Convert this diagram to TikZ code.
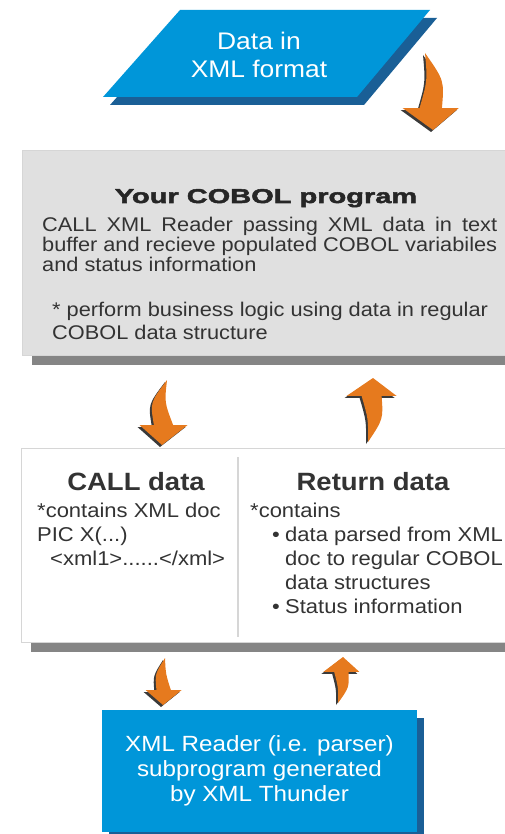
\documentclass[tikz,border=0pt]{standalone}
\usepackage{fontspec}
\setmainfont{Liberation Sans}[FakeStretch=1.1]
\newfontfamily\heavyfont{Liberation Sans}[FakeStretch=1.45,FakeBold=2.5]
\usetikzlibrary{shadows,calc}

\definecolor{xmlblue}{HTML}{0096D9}
\definecolor{xmlshade}{HTML}{1A5F96}
\definecolor{cobolgray}{HTML}{E0E0E0}
\definecolor{barshade}{HTML}{858585}
\definecolor{arroworange}{HTML}{E67A1E}
\definecolor{arrowdark}{HTML}{3A3A3A}
\definecolor{rulegray}{HTML}{D6D6D6}
\definecolor{textgray}{HTML}{333333}

\tikzset{
  blueshadow/.style={drop shadow={shadow xshift=7pt, shadow yshift=-8pt, fill=xmlshade, opacity=1}},
  bluebox/.style={fill=xmlblue, text=white, inner sep=0pt, blueshadow},
  panel/.style={rectangle, draw=rulegray, inner sep=0pt,
    drop shadow={shadow xshift=10pt, shadow yshift=-10pt, fill=barshade, opacity=1}},
  heading/.style={font=\fontsize{25}{28}\selectfont\bfseries, text=textgray, inner sep=0pt},
  bodytext/.style={font=\fontsize{20}{24}\selectfont, text=textgray, inner sep=0pt, align=left},
  blockarrow/.style={fill=arroworange,
    drop shadow={shadow xshift=-2pt, shadow yshift=-2pt, fill=arrowdark, opacity=1}}
}

% curved block arrow: tail, tip, head length, head half width, bulge
\newcommand{\fatarrow}[5]{%
  \coordinate (hb) at ($(#2)!#3!(#1)$);
  \coordinate (mid) at ($(#1)!0.5!(hb)$);
  \fill[blockarrow] (#1) .. controls ($(mid)+(#5+0.3*#4,0)$) .. ($(hb)+(0.4*#4,0)$)
    -- ($(hb)+(#4,0)$) -- (#2) -- ($(hb)+(-#4,0)$) -- ($(hb)+(-0.4*#4,0)$)
    .. controls ($(mid)+(#5-0.3*#4,0)$) .. (#1) -- cycle;
}

\begin{document}
\begin{tikzpicture}[x=1pt,y=-1pt]
\useasboundingbox (0,0) rectangle (504,834);

% input
\fill[xmlblue, blueshadow] (180,10) -- (430,10) -- (357,97) -- (103,97) -- cycle;
\node[text=white, inner sep=0pt, align=center, font=\fontsize{24}{28}\selectfont] (data) at (259,55)
  {Data in\\XML format};

% the COBOL program
\node[panel, fill=cobolgray, minimum width=494pt, minimum height=205pt] (cobol) at (269,252.5) {};
\node[font=\heavyfont\fontsize{20}{24}\selectfont\bfseries, text=black!85, inner sep=0pt, anchor=base] (title) at (266,203) {Your COBOL program};
\node[bodytext, font=\fontsize{19.8}{20}\selectfont, text width=455pt, align=justify, anchor=north west] (callxml) at (42,217)
  {CALL XML Reader passing XML data in text buffer and recieve populated COBOL variabiles and status information};
\node[bodytext, font=\fontsize{19.8}{23}\selectfont, anchor=north west] (logic) at (52,302)
  {* perform business logic using data in regular\\COBOL data structure};

% data passed to and from the reader
\node[panel, fill=white, minimum width=494pt, minimum height=194pt] (pass) at (268,545) {};
\draw[rulegray, line width=2pt] (238,457) -- (238,637);
\node[heading, anchor=base] (calldata) at (136,490) {CALL data};
\node[heading, anchor=base] (retdata) at (373,490) {Return data};
\node[bodytext, anchor=north west] (callinfo) at (37,503)
  {*contains XML doc\\PIC X(...)\\\hspace*{13pt}<xml1>......</xml>};
\node[bodytext, anchor=north west] (retinfo) at (250,503)
  {*contains\\
   \hspace*{22pt}\makebox[13pt][l]{\textbullet}data parsed from XML\\
   \hspace*{35pt}doc to regular COBOL\\
   \hspace*{35pt}data structures\\
   \hspace*{22pt}\makebox[13pt][l]{\textbullet}Status information};

% the reader
\node[bluebox, minimum width=315pt, minimum height=122pt, align=center,
  font=\fontsize{22}{25}\selectfont] (reader) at (259.5,771)
  {XML Reader (i.e. parser)\\subprogram generated\\by XML Thunder};

% arrows
\coordinate (in tail) at (425,53);
\coordinate (in tip) at (433,130);
\coordinate (call tail) at (167,380);
\coordinate (call tip) at (162,445);
\coordinate (ret tail) at (368,442);
\coordinate (ret tip) at (373,378);
\coordinate (pass tail) at (165,658);
\coordinate (pass tip) at (163,705);
\coordinate (back tail) at (338,703);
\coordinate (back tip) at (343,657);

\fatarrow{in tail}{in tip}{22pt}{28}{8}
\fatarrow{call tail}{call tip}{20pt}{24}{-8}
\fatarrow{ret tail}{ret tip}{18pt}{25}{6}
\fatarrow{pass tail}{pass tip}{15pt}{18}{-4}
\fatarrow{back tail}{back tip}{15pt}{18}{4}
\end{tikzpicture}
\end{document}
